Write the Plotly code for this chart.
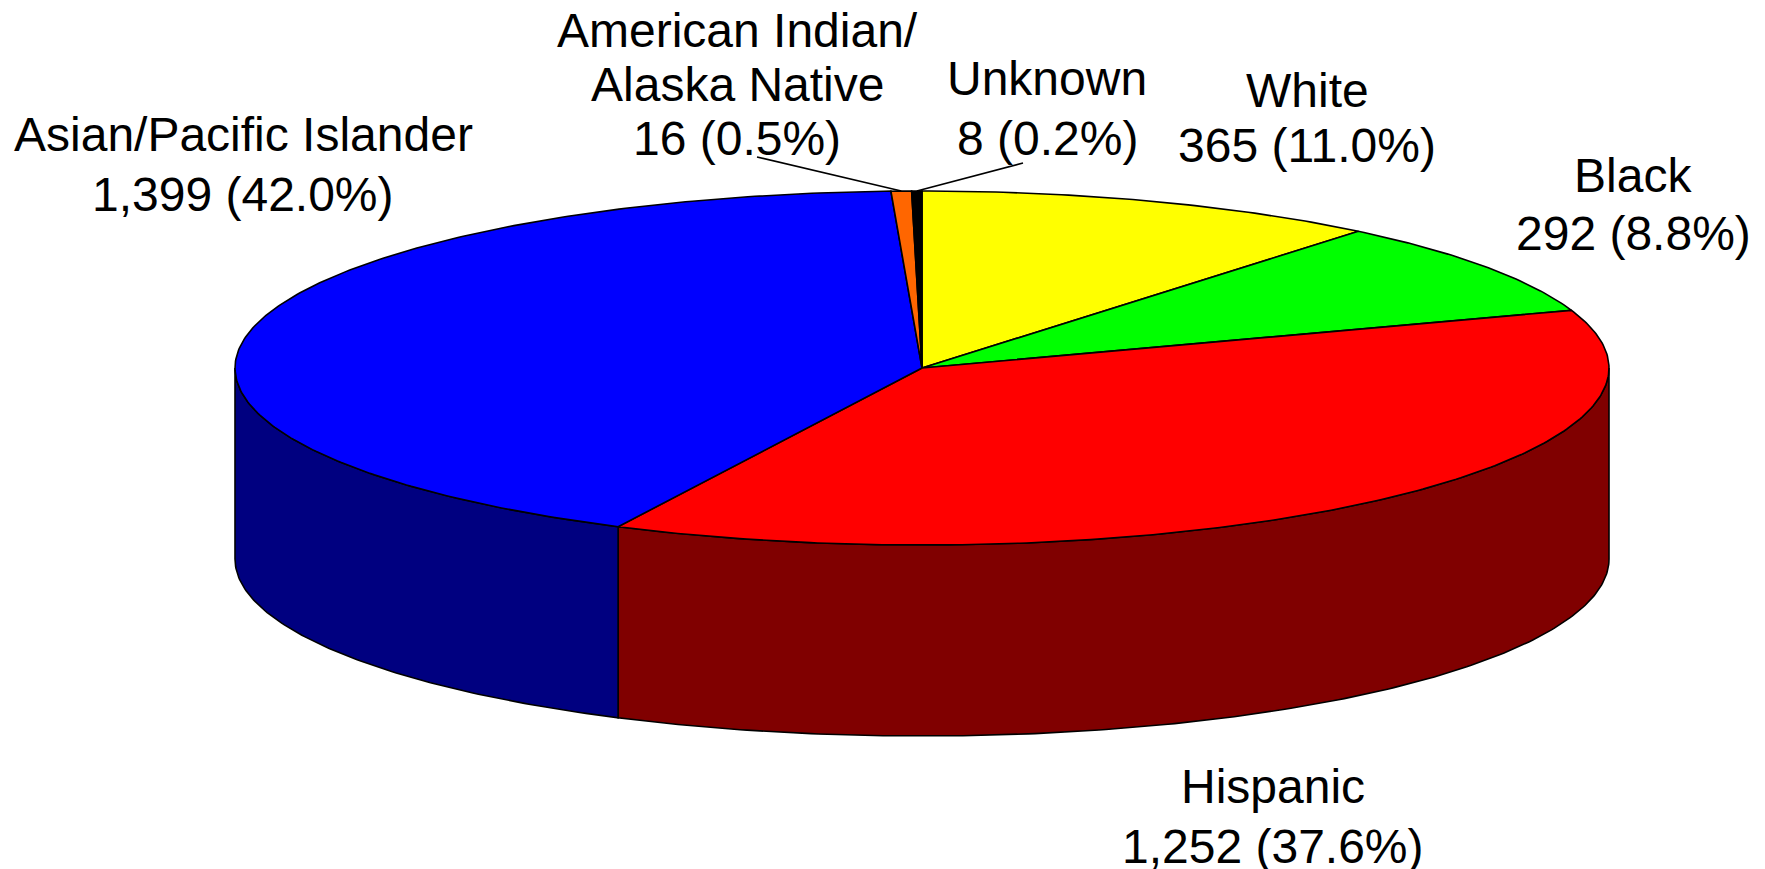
import numpy as np
import plotly.graph_objects as go

# ---- data ----
categories = ["White", "Black", "Hispanic", "Asian/Pacific Islander",
              "American Indian/\nAlaska Native", "Unknown"]
values = [365, 292, 1252, 1399, 16, 8]
top_colors = ["#FFFF00", "#00FF00", "#FF0000", "#0000FF", "#FF6600", "#000000"]
side_colors = ["#808000", "#008000", "#800000", "#000080", "#803300", "#000000"]

# ---- layout of the 3D pie (window pixels) ----
W, H = 1765, 869
PAGE_MARGIN = 8  # default body margin of the html page
cx, cy, rx, ry, depth = 922.0, 368.0, 687.0, 177.0, 191.0

# label placement: (x center, y of first line, line spacing)
label_pos = {
    "White": (1307, 90, 55),
    "Black": (1633, 175, 58),
    "Hispanic": (1273, 786, 60),
    "Asian/Pacific Islander": (243, 134, 60),
    "American Indian/\nAlaska Native": (737, 30, 54),
    "Unknown": (1047, 78, 60),
}
# leader line label-side end points for small slices
leader_start = {
    "American Indian/\nAlaska Native": (757, 157),
    "Unknown": (1023, 163),
}

vals = np.array(values, dtype=float)
total = vals.sum()
frac = vals / total
cum = np.concatenate([[0.0], np.cumsum(frac)])
angles = cum * 2 * np.pi  # clockwise from 12 o'clock


def ex(t):
    return cx + rx * np.sin(t)


def ey(t):
    return cy - ry * np.cos(t)


fig = go.Figure()

# side faces (front half only: pi/2 .. 3pi/2)
for i in range(len(values)):
    a, b = angles[i], angles[i + 1]
    lo, hi = max(a, np.pi / 2), min(b, 3 * np.pi / 2)
    if hi <= lo:
        continue
    t = np.linspace(lo, hi, max(int((hi - lo) / (2 * np.pi) * 600), 8))
    xs = np.concatenate([ex(t), ex(t[::-1]), [ex(t[0])]])
    ys = np.concatenate([ey(t), ey(t[::-1]) + depth, [ey(t[0])]])
    fig.add_trace(go.Scatter(x=xs, y=ys, mode="lines", fill="toself",
                             fillcolor=side_colors[i],
                             line=dict(color="black", width=1.6),
                             hoverinfo="skip", showlegend=False))

# top faces
for i in range(len(values)):
    a, b = angles[i], angles[i + 1]
    t = np.linspace(a, b, max(int((b - a) / (2 * np.pi) * 600), 4))
    xs = np.concatenate([[cx], ex(t), [cx]])
    ys = np.concatenate([[cy], ey(t), [cy]])
    fig.add_trace(go.Scatter(x=xs, y=ys, mode="lines", fill="toself",
                             fillcolor=top_colors[i],
                             line=dict(color="black", width=1.6),
                             hoverinfo="skip", showlegend=False))

# leader lines
for i, cat in enumerate(categories):
    if cat in leader_start:
        mid = (angles[i] + angles[i + 1]) / 2
        sx, sy = leader_start[cat]
        fig.add_trace(go.Scatter(x=[sx, ex(mid)], y=[sy, ey(mid)], mode="lines",
                                 line=dict(color="black", width=1.6),
                                 hoverinfo="skip", showlegend=False))

# labels
font = dict(family="Liberation Sans, Arial, sans-serif", size=48, color="black")
for i, cat in enumerate(categories):
    pct = frac[i] * 100
    lines = cat.split("\n") + [f"{values[i]:,} ({pct:.1f}%)"]
    x0, y0, dy = label_pos[cat]
    for k, txt in enumerate(lines):
        fig.add_annotation(x=x0, y=y0 + k * dy, text=txt, showarrow=False,
                           xanchor="center", yanchor="middle", font=font,
                           xref="x", yref="y")

fig.update_layout(
    width=W - PAGE_MARGIN, height=H - PAGE_MARGIN,
    margin=dict(l=0, r=0, t=0, b=0, pad=0),
    paper_bgcolor="white", plot_bgcolor="white",
    xaxis=dict(range=[PAGE_MARGIN, W], visible=False, fixedrange=True),
    yaxis=dict(range=[H, PAGE_MARGIN], visible=False, fixedrange=True),
    showlegend=False,
)

fig.write_html("out.html", config={"displayModeBar": False})
